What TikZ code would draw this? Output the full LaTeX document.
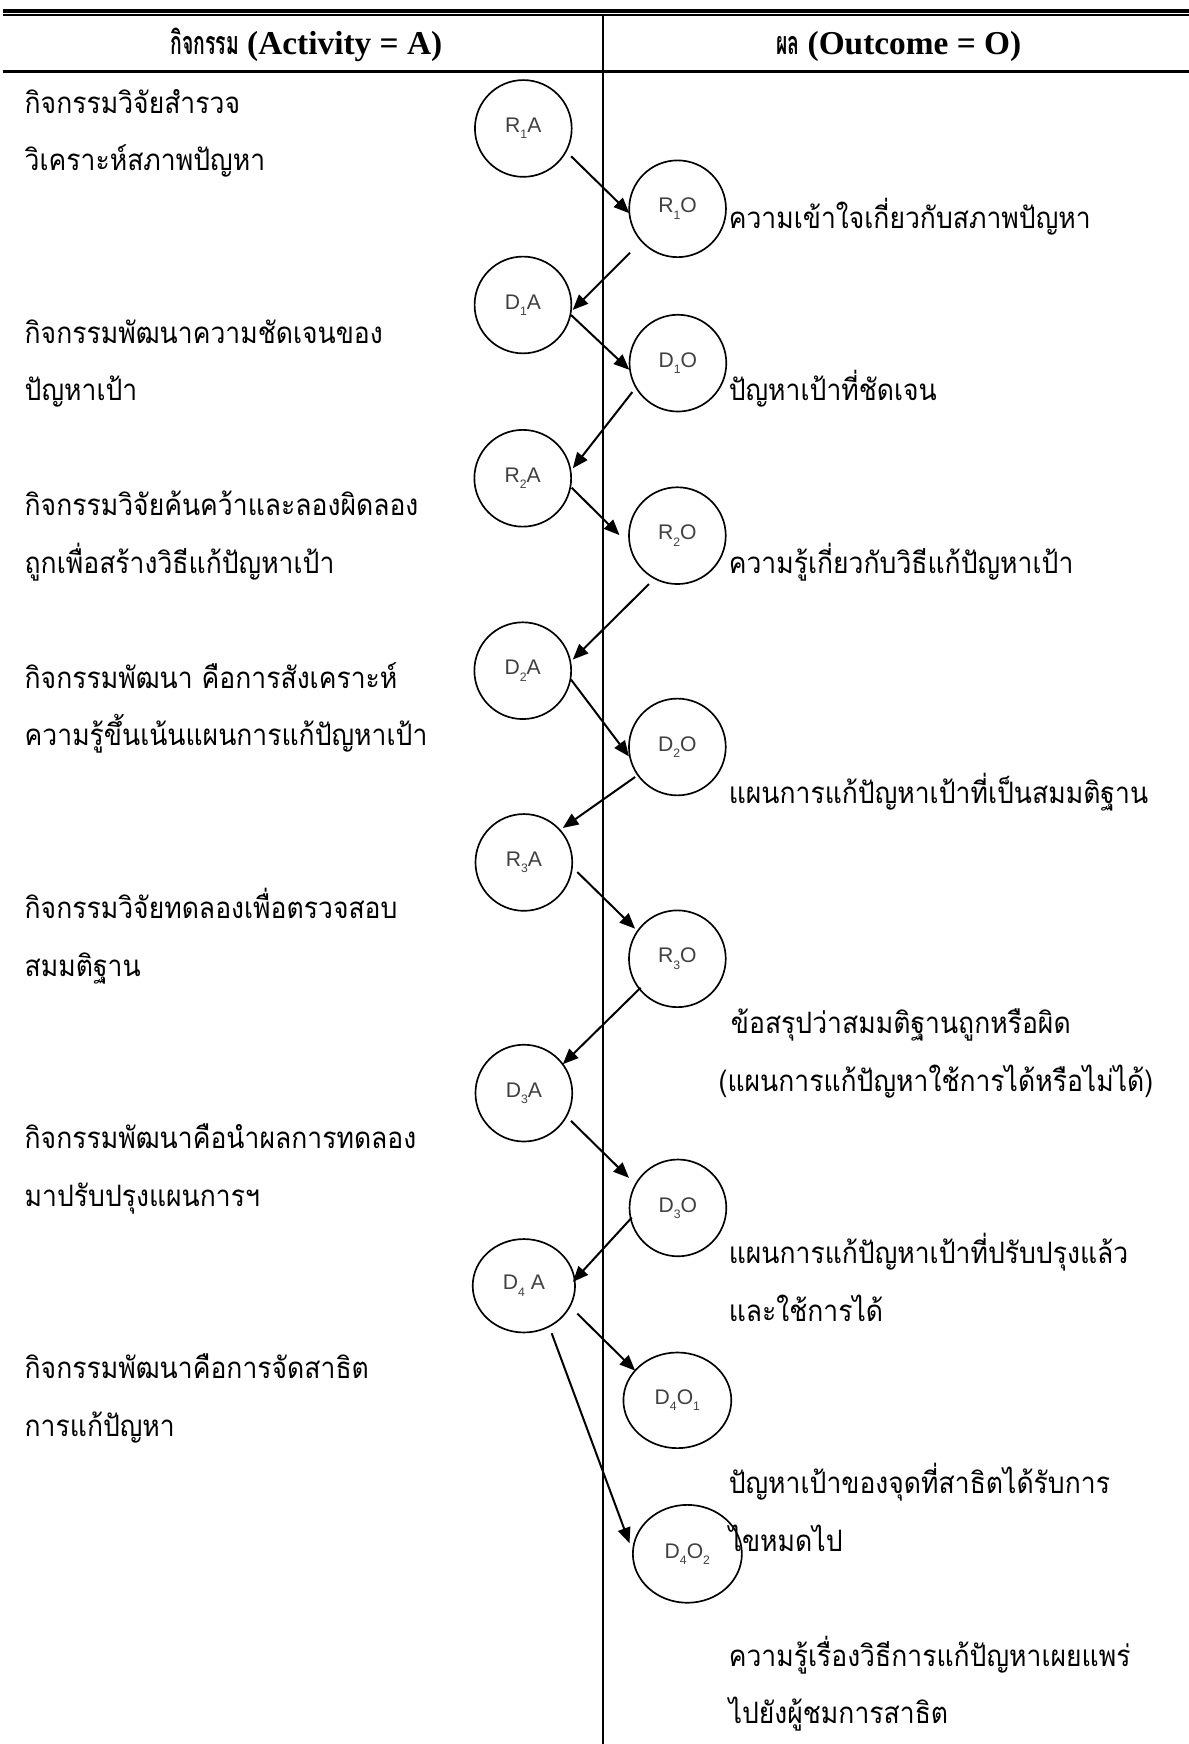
\documentclass[tikz,border=0pt]{standalone}
\usepackage{fontspec}
\setmainfont{Liberation Serif}
\newfontfamily\thaifont[Script=Thai, FakeStretch=0.9]{Loma}
\newfontfamily\thaihead[Script=Thai, FakeStretch=0.6]{Loma}
\newfontfamily\labfont{Liberation Sans}
\usetikzlibrary{arrows.meta,calc,shapes.geometric}
\newcommand\lsb[1]{\raisebox{-0.3em}{\fontsize{11}{11}\selectfont #1}}
\begin{document}
\begin{tikzpicture}[x=1pt,y=-1pt,
  cnode/.style={draw, circle, line width=1.5pt, minimum size=87pt, inner sep=0pt,
    font=\labfont\fontsize{19}{19}\selectfont, text=black!75},
  enode/.style={draw, ellipse, line width=1.5pt, inner sep=0pt,
    font=\labfont\fontsize{19}{19}\selectfont, text=black!75},
  arr/.style={line width=1.8pt, -{Triangle[length=14pt,width=11.5pt]}},
  tx/.style={anchor=base west, inner sep=0pt, font=\thaifont\fontsize{26.5}{26.5}\selectfont},
  hd/.style={anchor=base, inner sep=0pt, font=\bfseries\fontsize{30}{30}\selectfont}]
\useasboundingbox (0,0) rectangle (1069,1568);
% table rules
\draw[line width=3pt] (3,9.9) -- (1069,9.9);
\draw[line width=1.2pt] (3,13.5) -- (1069,13.5);
\draw[line width=2.5pt] (3,64.5) -- (1069,64.5);
\draw[line width=1.8pt] (542.5,13) -- (542.5,1568);
% headers
\node[hd] (h1) at (275.5,49.4) {{\thaihead\bfseries\fontsize{29}{29}\selectfont กิจกรรม} (Activity = A)};
\node[hd] (h2) at (808,49.4) {{\thaihead\bfseries\fontsize{29}{29}\selectfont ผล} (Outcome = O)};
% left texts
\node[tx] (l1) at (22,102) {กิจกรรมวิจัยสำรวจ};
\node[tx] (l2) at (22,153.7) {วิเคราะห์สภาพปัญหา};
\node[tx] (l3) at (22,308.8) {กิจกรรมพัฒนาความชัดเจนของ};
\node[tx] (l4) at (22,360.5) {ปัญหาเป้า};
\node[tx] (l5) at (22,463.9) {กิจกรรมวิจัยค้นคว้าและลองผิดลอง};
\node[tx] (l6) at (22,515.6) {ถูกเพื่อสร้างวิธีแก้ปัญหาเป้า};
\node[tx] (l7) at (22,619) {กิจกรรมพัฒนา คือการสังเคราะห์};
\node[tx] (l8) at (22,670.7) {ความรู้ขึ้นเน้นแผนการแก้ปัญหาเป้า};
\node[tx] (l9) at (22,825.8) {กิจกรรมวิจัยทดลองเพื่อตรวจสอบ};
\node[tx] (l10) at (22,877.5) {สมมติฐาน};
\node[tx] (l11) at (22,1032.6) {กิจกรรมพัฒนาคือนำผลการทดลอง};
\node[tx] (l12) at (22,1084.3) {มาปรับปรุงแผนการฯ};
\node[tx] (l13) at (22,1239.4) {กิจกรรมพัฒนาคือการจัดสาธิต};
\node[tx] (l14) at (22,1291.1) {การแก้ปัญหา};
% right texts
\node[tx] (r1) at (655,205.4) {ความเข้าใจเกี่ยวกับสภาพปัญหา};
\node[tx] (r2) at (655,360.5) {ปัญหาเป้าที่ชัดเจน};
\node[tx] (r3) at (655,515.6) {ความรู้เกี่ยวกับวิธีแก้ปัญหาเป้า};
\node[tx] (r4) at (655,722.4) {แผนการแก้ปัญหาเป้าที่เป็นสมมติฐาน};
\node[tx] (r5) at (657,929.2) {ข้อสรุปว่าสมมติฐานถูกหรือผิด};
\node[tx] (r6) at (646,980.9) {(แผนการแก้ปัญหาใช้การได้หรือไม่ได้)};
\node[tx] (r7) at (655,1136) {แผนการแก้ปัญหาเป้าที่ปรับปรุงแล้ว};
\node[tx] (r8) at (655,1187.7) {และใช้การได้};
\node[tx] (r9) at (655,1342.8) {ปัญหาเป้าของจุดที่สาธิตได้รับการ};
\node[tx] (r10) at (655,1394.5) {ไขหมดไป};
\node[tx] (r11) at (655,1497.9) {ความรู้เรื่องวิธีการแก้ปัญหาเผยแพร่};
\node[tx] (r12) at (655,1549.6) {ไปยังผู้ชมการสาธิต};
% circles
\node[cnode] (R1A) at (470.5,115.5) {R\lsb{1}A};
\node[cnode] (R1O) at (609.2,187.7) {R\lsb{1}O};
\node[cnode] (D1A) at (470.2,274.2) {D\lsb{1}A};
\node[cnode] (D1O) at (609.5,326.5) {D\lsb{1}O};
\node[cnode] (R2A) at (470,430) {R\lsb{2}A};
\node[cnode] (R2O) at (609,481.6) {R\lsb{2}O};
\node[cnode] (D2A) at (470,603) {D\lsb{2}A};
\node[cnode] (D2O) at (609,671.6) {D\lsb{2}O};
\node[cnode] (R3A) at (471,775.4) {R\lsb{3}A};
\node[cnode] (R3O) at (609,862) {R\lsb{3}O};
\node[cnode] (D3A) at (471,982.8) {D\lsb{3}A};
\node[cnode] (D3O) at (609.5,1086) {D\lsb{3}O};
\node[enode, minimum width=92pt, minimum height=84pt] (D4A) at (471,1156) {D\lsb{4} A};
\node[enode, minimum width=97pt, minimum height=86pt] (D4O1) at (609,1259) {D\lsb{4}O\lsb{1}};
\node[enode, minimum width=98pt, minimum height=88pt] (D4O2) at (618,1397) {D\lsb{4}O\lsb{2}};
% arrows
\draw[arr] ($(R1A)+(43,25)$) -- ($(R1O)+(-43.4,4)$);
\draw[arr] ($(R1O)+(-42.8,39.5)$) -- ($(D1A)+(44.7,4.5)$);
\draw[arr] ($(D1A)+(43.2,9)$) -- ($(D1O)+(-43.7,6)$);
\draw[arr] ($(D1O)+(-41,26)$) -- ($(R2A)+(45,-9)$);
\draw[arr] ($(R2A)+(44,8.5)$) -- ($(R2O)+(-52,-0.5)$);
\draw[arr] ($(R2O)+(-25.5,43.5)$) -- ($(D2A)+(45,-10)$);
\draw[arr] ($(D2A)+(43.4,8)$) -- ($(D2O)+(-43.5,8.5)$);
\draw[arr] ($(D2O)+(-38,27)$) -- ($(R3A)+(35,-31)$);
\draw[arr] ($(R3A)+(48,8.6)$) -- ($(R3O)+(-38,-27)$);
\draw[arr] ($(R3O)+(-33,26)$) -- ($(D3A)+(35,-26)$);
\draw[arr] ($(D3A)+(42.4,25)$) -- ($(D3O)+(-44,-27)$);
\draw[arr] ($(D3O)+(-41.5,8.7)$) -- ($(D4A)+(44,-3.5)$);
\draw[arr] ($(D4A)+(48,25)$) -- ($(D4O1)+(-38,-26.7)$);
\draw[arr] ($(D4A)+(25,42.7)$) -- ($(D4O2)+(-52,-9.5)$);
\end{tikzpicture}
\end{document}
